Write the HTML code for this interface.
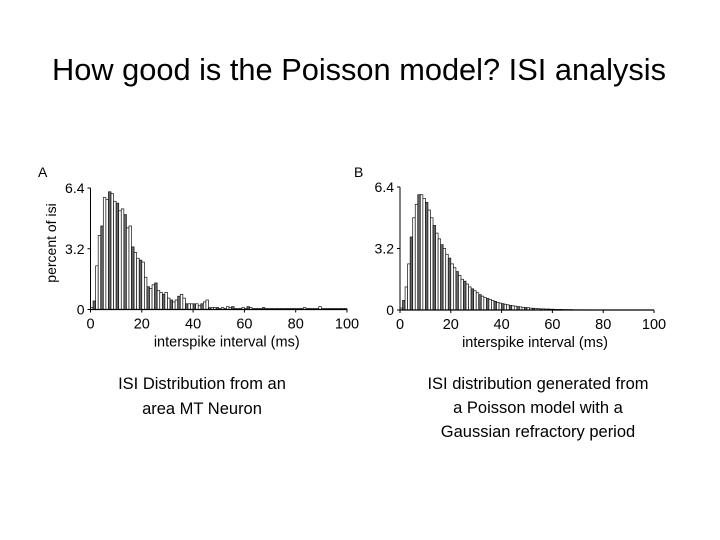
<!DOCTYPE html>
<html><head><meta charset="utf-8"><style>
html,body{margin:0;padding:0;background:#fff;}
svg{display:block;font-family:"Liberation Sans",sans-serif;}
</style></head><body>
<svg id="root" width="720" height="540" viewBox="0 0 720 540">
<text x="52" y="80" font-size="31" textLength="614" lengthAdjust="spacingAndGlyphs" fill="#000">How good is the Poisson model? ISI analysis</text>
<g id="chartA"></g>
<g id="chartB"></g>
<g font-size="16.5" fill="#000" text-anchor="middle">
<text x="202" y="389">ISI Distribution from an</text>
<text x="202" y="414">area MT Neuron</text>
</g>
<g font-size="16.5" fill="#000" text-anchor="middle">
<text x="538" y="389">ISI distribution generated from</text>
<text x="538" y="413">a Poisson model with a</text>
<text x="538" y="437">Gaussian refractory period</text>
</g>
</svg>
<script>
const xTicks=[0,20,40,60,80,100];
const yTicks=[0,3.2,6.4];
const yTickLabels=["0","3.2","6.4"];
const seriesA=[0.1,0.45,2.3,3.9,4.4,5.9,5.8,6.2,6.1,5.7,5.6,5.2,5.3,5.0,4.3,4.4,3.3,3.0,2.7,2.6,2.5,1.7,1.2,1.1,1.3,1.4,1.0,0.9,0.8,0.9,0.6,0.5,0.4,0.5,0.7,0.8,0.6,0.3,0.3,0.3,0.3,0.3,0.2,0.3,0.4,0.5,0.1,0.1,0.1,0.1,0.05,0.1,0.05,0.15,0.1,0.15,0.05,0.05,0.05,0.1,0.05,0.15,0.1,0.05,0.05,0.05,0.05,0.1,0.05,0.05,0.05,0.05,0.05,0.05,0.05,0.05,0.05,0.05,0.05,0.05,0.05,0.05,0.05,0.1,0.05,0.05,0.05,0.05,0.05,0.15,0.05,0.05,0.05,0.05,0.05,0.05,0.05,0.05,0.05,0.05];
const seriesB=[0.1,0.5,1.2,2.4,3.8,4.8,5.5,6.0,6.0,5.8,5.6,5.2,4.8,4.4,4.0,3.7,3.4,3.2,2.9,2.7,2.4,2.2,2.0,1.8,1.6,1.5,1.35,1.2,1.1,1.0,0.9,0.8,0.72,0.65,0.6,0.55,0.5,0.45,0.4,0.36,0.33,0.3,0.27,0.24,0.22,0.2,0.18,0.16,0.14,0.13,0.12,0.1,0.09,0.08,0.07,0.06,0.06,0.05,0.05,0.04,0.04,0.03,0.03,0.03,0.02,0.02,0.02,0.02,0.01,0.01,0.01,0.01,0.01,0.01,0.01,0,0,0,0,0,0,0,0,0,0,0,0,0,0,0,0,0,0,0,0,0,0,0,0,0];
const NS="http://www.w3.org/2000/svg";
function mk(tag,attrs,parent){const e=document.createElementNS(NS,tag);for(const k in attrs)e.setAttribute(k,attrs[k]);parent.appendChild(e);return e;}
function drawChart(gid,data,x0,x1,y0,y1,label,lx){
  const g=document.getElementById(gid);
  const xs=v=>x0+(x1-x0)*v/100;
  const ys=v=>y0-(y0-y1)*v/6.4;
  const bw=(x1-x0)/100;
  data.forEach((v,i)=>{
    if(v<=0)return;
    const r=mk('rect',{x:xs(i),y:ys(v),width:bw,height:y0-ys(v),fill:(i%3==1)?'#666':'#fff',stroke:'#111','stroke-width':0.7},g);
    
    
  });
  const ax=mk('line',{x1:x0,y1:y0,x2:x1,y2:y0,stroke:'#000','stroke-width':1.2},g);
  
  
  const ay=mk('line',{x1:x0,y1:y0,x2:x0,y2:y1,stroke:'#000','stroke-width':1},g);
  
  
  xTicks.forEach(t=>{
    mk('line',{x1:xs(t),y1:y0,x2:xs(t),y2:y0+3,stroke:'#000'},g);
    const tx=mk('text',{x:xs(t),y:y0+19,'font-size':14.5,'text-anchor':'middle',fill:'#000'},g);
    tx.textContent=t;
    
    
  });
  yTicks.forEach((t,i)=>{
    mk('line',{x1:x0-3,y1:ys(t),x2:x0,y2:ys(t),stroke:'#000'},g);
    const tx=mk('text',{x:x0-6,y:ys(t)+5,'font-size':14,'text-anchor':'end',fill:'#000'},g);
    tx.textContent=yTickLabels[i];
    
    
  });
  const xl=mk('text',{x:(x0+x1)/2+8,y:y0+37,'font-size':14.5,'text-anchor':'middle',fill:'#000'},g);
  xl.textContent='interspike interval (ms)';
  
  
  const pl=mk('text',{x:lx,y:177,'font-size':14,fill:'#000'},g);
  pl.textContent=label;
  
  
}
drawChart('chartA',seriesA,90.5,347,309.5,188,'A',38);
drawChart('chartB',seriesB,400,654,310,187,'B',354);
const yl=mk('text',{x:0,y:0,'font-size':14,'text-anchor':'middle',fill:'#000',transform:'translate(56,243) rotate(-90)'},document.getElementById('chartA'));
yl.textContent='percent of isi';


</script>
</body></html>
